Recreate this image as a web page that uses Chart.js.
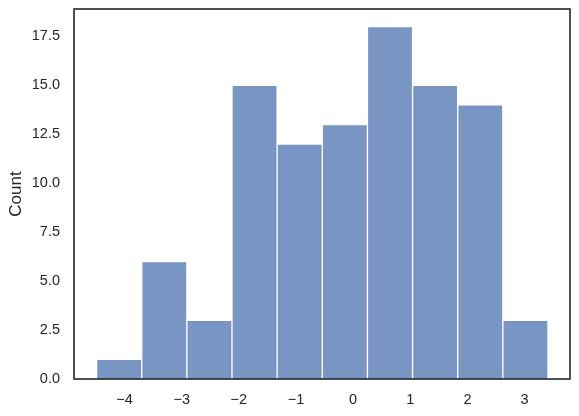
<!DOCTYPE html>
<html>
<head>
<meta charset="utf-8">
<script src="https://cdn.jsdelivr.net/npm/chart.js@4"></script>
<style>
  html, body { margin: 0; padding: 0; background: #fff; }
  #wrap { width: 579px; height: 416px; }
</style>
</head>
<body>
<div id="wrap"><canvas id="histograma" width="579" height="416"></canvas></div>
<script>
// bordes de los bins y conteos
const binEdges = [-4.49, -3.70, -2.91, -2.12, -1.33, -0.54, 0.25, 1.04, 1.83, 2.62, 3.41];
const counts = [1, 6, 3, 15, 12, 13, 18, 15, 14, 3];
const xTicks = [-4, -3, -2, -1, 0, 1, 2, 3];
const yTicks = [0, 2.5, 5, 7.5, 10, 12.5, 15, 17.5];

const puntos = counts.map((c, i) => ({ x: (binEdges[i] + binEdges[i + 1]) / 2, y: c }));

const ink = "rgb(38,38,38)";
Chart.defaults.font.family = "'Liberation Sans', Arial, sans-serif";
Chart.defaults.font.size = 14.5;
Chart.defaults.color = ink;

// marco completo alrededor del area del grafico
const marco = {
    id: "marco",
    afterDraw(chart) {
        const { ctx, chartArea: a } = chart;
        ctx.save();
        ctx.strokeStyle = ink;
        ctx.lineWidth = 1.6;
        ctx.strokeRect(a.left, a.top, a.right - a.left, a.bottom - a.top);
        ctx.restore();
    }
};

new Chart(document.getElementById("histograma"), {
    type: "bar",
    data: {
        datasets: [{
            label: "Count",
            data: puntos,
            backgroundColor: "rgba(76,114,176,0.75)",
            borderColor: "#ffffff",
            borderWidth: 1,
            barPercentage: 1,
            categoryPercentage: 1,
            grouped: false
        }]
    },
    options: {
        responsive: false,
        animation: false,
        layout: { padding: { top: 9, right: 9, left: 0, bottom: 0 } },
        plugins: { legend: { display: false }, tooltip: { enabled: false } },
        scales: {
            x: {
                type: "linear",
                offset: false,
                min: -4.885,
                max: 3.795,
                grid: { display: false, drawTicks: false },
                border: { display: false },
                afterBuildTicks: axis => { axis.ticks = xTicks.map(v => ({ value: v })); },
                afterFit: axis => { axis.height = 37; axis.paddingLeft = 0; axis.paddingRight = 0; },
                ticks: {
                    font: { size: 14.5 },
                    padding: 12,
                    maxRotation: 0,
                    callback: v => String(v).replace("-", "\u2212")
                }
            },
            y: {
                min: 0,
                max: 18.9,
                grid: { display: false, drawTicks: false },
                border: { display: false },
                afterBuildTicks: axis => { axis.ticks = yTicks.map(v => ({ value: v })); },
                afterFit: axis => { axis.width = 74; axis.paddingTop = 0; axis.paddingBottom = 0; },
                title: {
                    display: true,
                    text: "Count",
                    font: { size: 17 },
                    padding: { top: 6, bottom: 0 }
                },
                ticks: {
                    font: { size: 14.5 },
                    padding: 14,
                    callback: v => v.toFixed(1)
                }
            }
        }
    },
    plugins: [marco]
});
</script>
</body>
</html>
